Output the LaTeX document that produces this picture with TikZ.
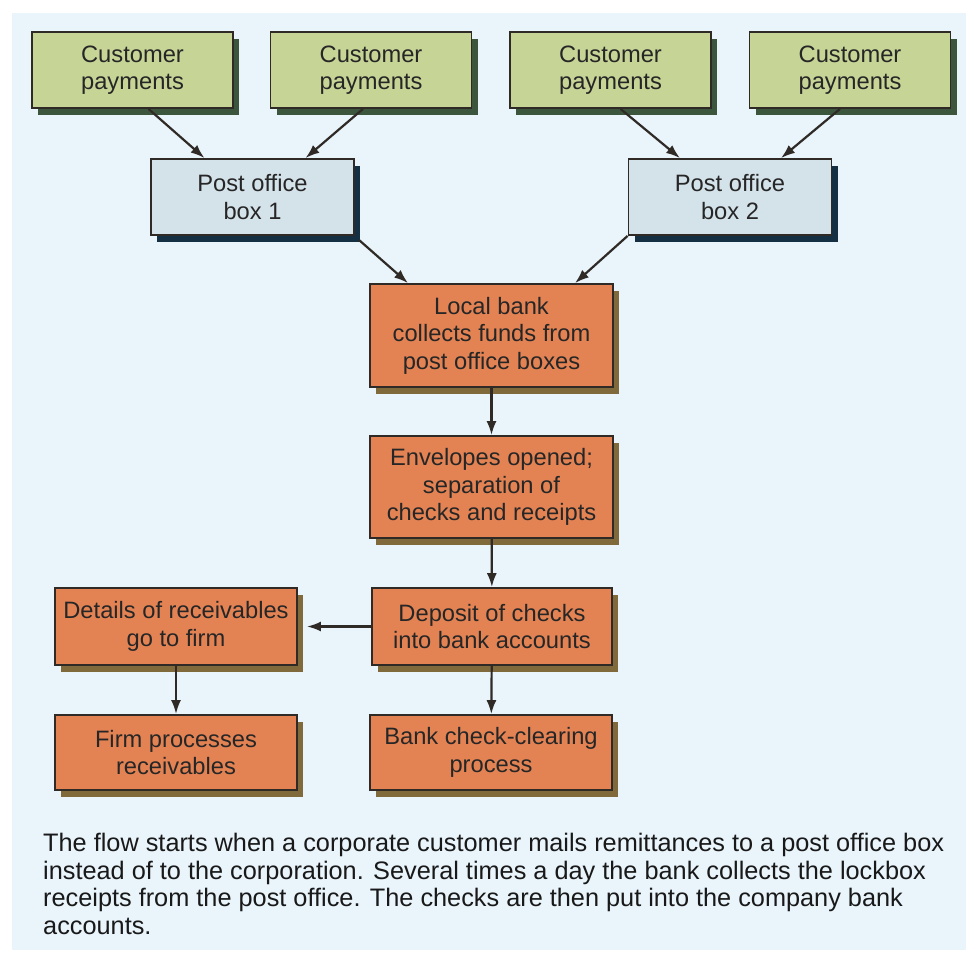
\documentclass[tikz,border=0pt]{standalone}
\usepackage{fontspec}
\setmainfont{Liberation Sans}
\usetikzlibrary{arrows.meta,shadows}
\definecolor{panelblue}{RGB}{233,244,251}
\definecolor{paygreen}{RGB}{198,212,150}
\definecolor{payshade}{RGB}{60,86,62}
\definecolor{boxblue}{RGB}{212,226,234}
\definecolor{boxshade}{RGB}{20,48,66}
\definecolor{steporange}{RGB}{227,131,84}
\definecolor{stepshade}{RGB}{128,106,60}
\definecolor{edgegray}{RGB}{48,42,38}

\begin{document}
\begin{tikzpicture}[x=1pt,y=-1pt,>={Latex[length=14pt,width=10pt]},
	every node/.style={font=\fontsize{23.7}{27.5}\selectfont,align=center,inner sep=0pt,text=black!85},
	flowbox/.style={draw=edgegray,line width=1.8pt,minimum width=#1},
	payment/.style={flowbox=201pt,minimum height=76pt,fill=paygreen,
		drop shadow={shadow xshift=6pt,shadow yshift=-7pt,fill=payshade,opacity=1}},
	pobox/.style={flowbox=203pt,minimum height=76pt,fill=boxblue,
		drop shadow={shadow xshift=6pt,shadow yshift=-7pt,fill=boxshade,opacity=1}},
	stepbox/.style={flowbox=#1,fill=steporange,
		drop shadow={shadow xshift=6pt,shadow yshift=-7pt,fill=stepshade,opacity=1}},
	link/.style={->,line width=2.2pt,draw=edgegray}]
			% panel
			\useasboundingbox (0,0) rectangle (966,955);
			\fill[panelblue] (12,13) rectangle (966,950);
			% customers and post office boxes
			\foreach \i/\x in {1/132.5, 2/371, 3/610.5, 4/850}
			\node[payment] (pay\i) at (\x,70) {Customer\\payments};
			\node[pobox] (box1) at (252.5,197) {Post office\\box 1};
			\node[pobox] (box2) at (730,197) {Post office\\box 2};
			% bank steps
			\node[stepbox=243pt,minimum height=103pt] (bank) at (491.5,335.5) {Local bank\\collects funds from\\post office boxes};
			\node[stepbox=243pt,minimum height=102pt] (open) at (491.5,487) {Envelopes opened;\\separation of\\checks and receipts};
			\node[stepbox=240pt,minimum height=77pt] (deposit) at (492,626.5) {Deposit of checks\\into bank accounts};
			\node[stepbox=242pt,minimum height=77pt] (details) at (176,626.5) {Details of receivables\\go to firm};
			\node[stepbox=242pt,minimum height=75pt] (firm) at (176,752.5) {Firm processes\\receivables};
			\node[stepbox=242pt,minimum height=75pt] (clearing) at (491,752.5) {Bank check-clearing\\process};
			% arrows
			\draw[link] ([xshift=16pt]pay1.south) -- ([xshift=-48pt]box1.north);
			\draw[link] ([xshift=-8pt]pay2.south) -- ([xshift=53pt]box1.north);
			\draw[link] ([xshift=10pt]pay3.south) -- ([xshift=-50pt]box2.north);
			\draw[link] ([xshift=-10pt]pay4.south) -- ([xshift=51pt]box2.north);
			\draw[link] ([xshift=4pt,yshift=-4pt]box1.south east) -- ([xshift=-83.5pt]bank.north);
			\draw[link] (box2.south west) -- ([xshift=83.5pt]bank.north);
			\draw[link] (bank) -- (open);
			\draw[link] (open) -- (deposit);
			\draw[link] (deposit.west) -- ([xshift=9pt]details.east);
			\draw[link] (details) -- (firm);
			\draw[link] (deposit) -- (clearing);
			% caption
			\node[anchor=north west,align=left,font=\fontsize{25.3}{27.5}\selectfont,text=black!90] (note) at (43,833)
			{The flow starts when a corporate customer mails remittances to a post office box\\
			instead of to the corporation. Several times a day the bank collects the lockbox\\
			receipts from the post office. The checks are then put into the company bank\\
			accounts.};
		\end{tikzpicture}
\end{document}
